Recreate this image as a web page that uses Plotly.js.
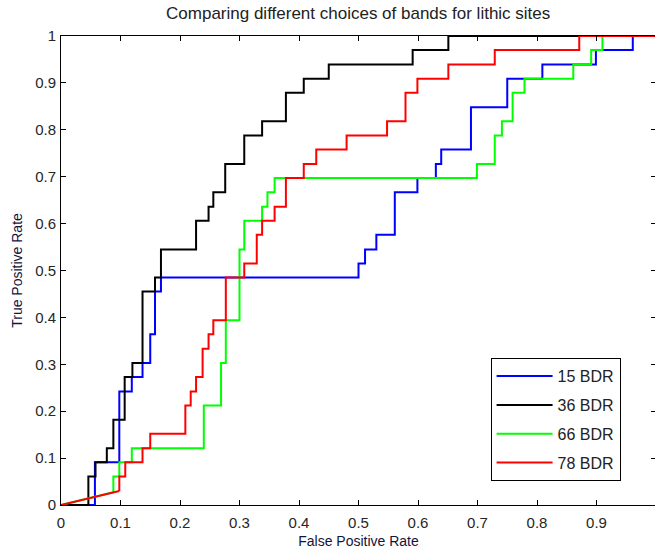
<!DOCTYPE html>
<html>
<head>
<meta charset="utf-8">
<script src="https://cdn.plot.ly/plotly-3.0.1.min.js"></script>
<style>
html, body { margin: 0; padding: 0; overflow: hidden; background: #fff; }
#chart { width: 656px; height: 552px; }
</style>
</head>
<body>
<div id="chart"></div>
<script>
// 15 BDR (blue)
var blueX = [0, 0.057, 0.098, 0.119, 0.137, 0.150, 0.158, 0.168, 0.500, 0.511, 0.530, 0.561, 0.599, 0.630, 0.639, 0.689, 0.750, 0.809, 0.899, 0.961, 1];
var blueY = [0, 0.091, 0.242, 0.273, 0.303, 0.364, 0.455, 0.485, 0.515, 0.545, 0.576, 0.667, 0.697, 0.727, 0.758, 0.848, 0.909, 0.939, 0.970, 1.000, 1];

// 36 BDR (black)
var blackX = [0, 0.046, 0.058, 0.077, 0.088, 0.107, 0.120, 0.137, 0.158, 0.168, 0.227, 0.248, 0.256, 0.276, 0.308, 0.338, 0.378, 0.408, 0.450, 0.591, 0.651, 1];
var blackY = [0, 0.061, 0.091, 0.121, 0.182, 0.273, 0.303, 0.455, 0.485, 0.545, 0.606, 0.636, 0.667, 0.727, 0.788, 0.818, 0.879, 0.909, 0.939, 0.970, 1.000, 1];

// 66 BDR (green) - first segment is a straight diagonal
var greenX = [0, 0.088, 0.088, 0.098, 0.119, 0.240, 0.269, 0.277, 0.300, 0.308, 0.338, 0.347, 0.359, 0.699, 0.729, 0.741, 0.759, 0.779, 0.861, 0.891, 0.910, 1];
var greenY = [0, 0.027, 0.061, 0.091, 0.121, 0.212, 0.303, 0.394, 0.545, 0.606, 0.636, 0.667, 0.697, 0.727, 0.788, 0.818, 0.879, 0.909, 0.939, 0.970, 1.000, 1];

// 78 BDR (red) - first segment is a straight diagonal
var redX = [0, 0.098, 0.098, 0.108, 0.137, 0.150, 0.209, 0.218, 0.227, 0.238, 0.248, 0.256, 0.277, 0.308, 0.329, 0.338, 0.359, 0.378, 0.408, 0.429, 0.480, 0.548, 0.579, 0.599, 0.651, 0.729, 0.871, 1];
var redY = [0, 0.030, 0.061, 0.091, 0.121, 0.152, 0.212, 0.242, 0.273, 0.333, 0.364, 0.394, 0.485, 0.515, 0.576, 0.606, 0.636, 0.697, 0.727, 0.758, 0.788, 0.818, 0.879, 0.909, 0.939, 0.970, 1.000, 1];

var seriesNames = ['15 BDR', '36 BDR', '66 BDR', '78 BDR'];
var seriesColors = ['#0000ff', '#000000', '#00ff00', '#ff0000'];
var tickVals = [0, 0.1, 0.2, 0.3, 0.4, 0.5, 0.6, 0.7, 0.8, 0.9, 1];
var tickText = ['0', '0.1', '0.2', '0.3', '0.4', '0.5', '0.6', '0.7', '0.8', '0.9', '1'];

var LW = 2;
function stepTrace(x, y, i) {
  return { x: x, y: y, type: 'scatter', mode: 'lines', name: seriesNames[i],
    legendgroup: 'g' + i, line: { color: seriesColors[i], width: LW, shape: 'hv' } };
}
function diagTrace(x, y, i) {
  return { x: x.slice(0, 2), y: y.slice(0, 2), type: 'scatter', mode: 'lines', showlegend: false,
    legendgroup: 'g' + i, hoverinfo: 'skip', line: { color: seriesColors[i], width: LW, shape: 'linear' } };
}

var data = [
  stepTrace(blueX, blueY, 0),
  stepTrace(blackX, blackY, 1),
  diagTrace(greenX, greenY, 2),
  stepTrace(greenX.slice(1), greenY.slice(1), 2),
  diagTrace(redX, redY, 3),
  stepTrace(redX.slice(1), redY.slice(1), 3)
];

var FONT = 'Liberation Sans, Arial, Helvetica, sans-serif';
var axisCommon = {
  range: [0, 1], autorange: false, tickmode: 'array', tickvals: tickVals, ticktext: tickText,
  ticks: 'inside', ticklen: 5, tickwidth: 1, tickcolor: '#000',
  showline: true, linecolor: '#000', linewidth: 1, mirror: 'ticks',
  showgrid: false, zeroline: false,
  tickfont: { family: FONT, size: 15, color: '#262626' }
};

var layout = {
  width: 656, height: 552,
  margin: { l: 61, r: 0, t: 36, b: 47, pad: 0 },
  paper_bgcolor: '#ffffff', plot_bgcolor: '#ffffff',
  font: { family: FONT },
  title: { text: 'Comparing different choices of bands for lithic sites',
    font: { family: FONT, size: 17, color: '#222222' },
    x: 0.546, xanchor: 'center', xref: 'container', y: 0.977, yanchor: 'middle', yref: 'container' },
  xaxis: Object.assign({}, axisCommon, {
    ticklabelstandoff: 4,
    title: { text: 'False Positive Rate', font: { family: FONT, size: 14, color: '#14143c' }, standoff: 6 }
  }),
  yaxis: Object.assign({}, axisCommon, {
    ticklabelstandoff: 1,
    title: { text: 'True Positive Rate', font: { family: FONT, size: 14, color: '#14143c' }, standoff: 9 }
  }),
  showlegend: true,
  legend: {
    x: 0.722, y: 0.313, xanchor: 'left', yanchor: 'top', xref: 'paper', yref: 'paper',
    bgcolor: '#ffffff', bordercolor: '#000000', borderwidth: 1,
    font: { family: FONT, size: 16, color: '#222222' },
    traceorder: 'grouped', tracegroupgap: 5, itemwidth: 56
  }
};

Plotly.newPlot('chart', data, layout, { displayModeBar: false, staticPlot: true });
</script>
</body>
</html>
